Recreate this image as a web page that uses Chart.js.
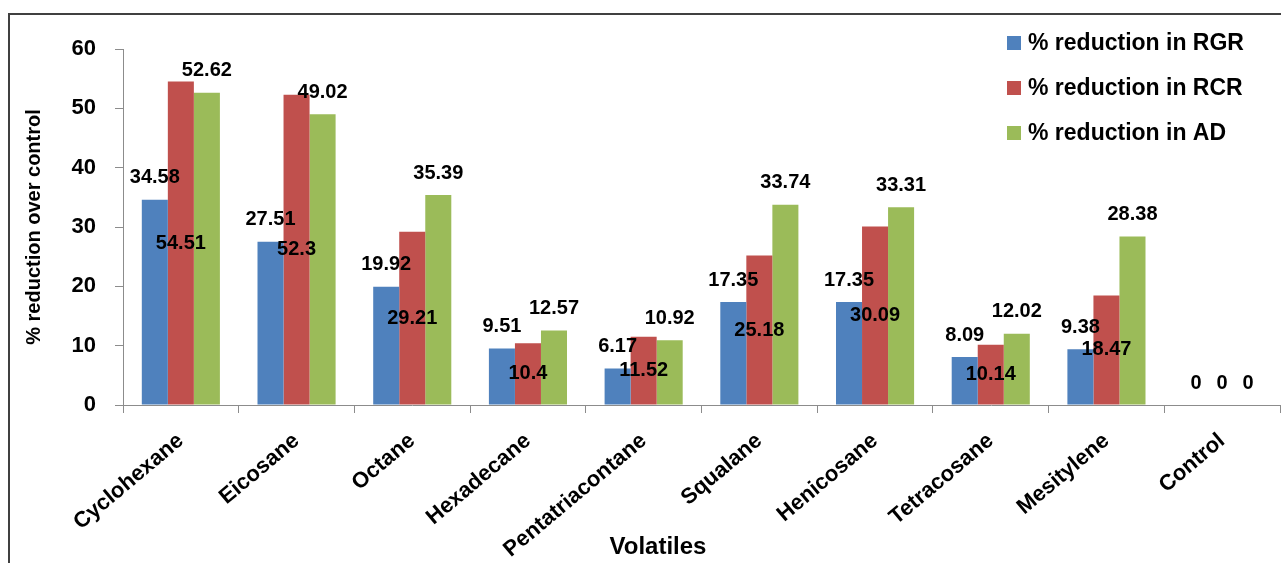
<!DOCTYPE html>
<html>
<head>
<meta charset="utf-8">
<script src="https://cdn.jsdelivr.net/npm/chart.js@4.4.1/dist/chart.umd.min.js"></script>
<style>
  html, body { margin: 0; padding: 0; background: #fff; }
  #wrap { position: relative; width: 1281px; height: 563px; overflow: hidden; }
  #frame {
    position: absolute; left: 8px; top: 13px; width: 1400px; height: 700px;
    border-left: 2px solid #404040; border-top: 2px solid #404040;
  }
  canvas { position: absolute; left: 0; top: 0; }
</style>
</head>
<body>
<div id="wrap">
  <div id="frame"></div>
  <canvas id="chart" width="1281" height="563"></canvas>
</div>
<script>
/* global Chart */
const categories = ['Cyclohexane', 'Eicosane', 'Octane', 'Hexadecane', 'Pentatriacontane',
  'Squalane', 'Henicosane', 'Tetracosane', 'Mesitylene', 'Control'];
const seriesNames = ['% reduction in RGR', '% reduction in RCR', '% reduction in AD'];
const rgrValues = [34.58, 27.51, 19.92, 9.51, 6.17, 17.35, 17.35, 8.09, 9.38, 0];
const rcrValues = [54.51, 52.3, 29.21, 10.4, 11.52, 25.18, 30.09, 10.14, 18.47, 0];
const adValues = [52.62, 49.02, 35.39, 12.57, 10.92, 33.74, 33.31, 12.02, 28.38, 0];
const seriesColors = ['#4F81BD', '#C0504D', '#9BBB59'];
const yMin = 0;
const yMax = 60;
const yStep = 10;

const FONT = "'Liberation Sans', Arial, sans-serif";
const AXIS_GREY = '#8c8c8c';

// value labels: RGR and AD above the bar, RCR centred in the bar
const valueLabels = {
  id: 'valueLabels',
  afterDatasetsDraw(chart) {
    const { ctx } = chart;
    ctx.save();
    ctx.font = `bold 20px ${FONT}`;
    ctx.fillStyle = '#000';
    ctx.textAlign = 'center';
    ctx.textBaseline = 'middle';
    chart.data.datasets.forEach((ds, i) => {
      chart.getDatasetMeta(i).data.forEach((bar, j) => {
        const v = ds.data[j];
        let y = bar.y - 22;
        if (i === 1 && v > 0) y = (bar.y + bar.base) / 2;
        ctx.fillText(String(v), bar.x, y);
      });
    });
    ctx.restore();
  },
};

// legend box in the top right corner
const cornerLegend = {
  id: 'cornerLegend',
  afterDraw(chart) {
    const { ctx } = chart;
    ctx.save();
    ctx.font = `bold 23px ${FONT}`;
    ctx.textBaseline = 'middle';
    ctx.textAlign = 'left';
    chart.data.datasets.forEach((ds, i) => {
      const cy = 43 + i * 45;
      ctx.fillStyle = ds.backgroundColor;
      ctx.fillRect(1007, cy - 7, 14, 14);
      ctx.fillStyle = '#000';
      ctx.fillText(ds.label, 1028, cy + 1);
    });
    ctx.restore();
  },
};

// x axis title, placed like the original (a bit left of centre)
const xTitle = {
  id: 'xTitle',
  afterDraw(chart) {
    const { ctx } = chart;
    ctx.save();
    ctx.font = `bold 24px ${FONT}`;
    ctx.fillStyle = '#000';
    ctx.textAlign = 'center';
    ctx.textBaseline = 'middle';
    ctx.fillText('Volatiles', 658, 547);
    ctx.restore();
  },
};

const datasets = [rgrValues, rcrValues, adValues].map((data, i) => ({
  label: seriesNames[i],
  data,
  backgroundColor: seriesColors[i],
  borderWidth: 0,
  categoryPercentage: 0.675,
  barPercentage: 1,
}));

new Chart(document.getElementById('chart'), {
  type: 'bar',
  data: { labels: categories, datasets },
  options: {
    animation: false,
    responsive: false,
    layout: { padding: { top: 49, right: 1, left: 0, bottom: 0 } },
    plugins: {
      legend: { display: false },
      tooltip: { enabled: false },
    },
    scales: {
      x: {
        grid: {
          offset: true,
          drawOnChartArea: false,
          drawTicks: true,
          tickLength: 8,
          color: AXIS_GREY,
        },
        border: { color: AXIS_GREY, width: 1 },
        ticks: {
          color: '#000',
          font: { family: FONT, size: 22, weight: 'bold' },
          minRotation: 40,
          maxRotation: 40,
          padding: 15,
        },
        afterFit(scale) { scale.height = 158; },
      },
      y: {
        min: yMin,
        max: yMax,
        grid: {
          drawOnChartArea: false,
          drawTicks: true,
          tickLength: 8,
          color: AXIS_GREY,
        },
        border: { color: AXIS_GREY, width: 1 },
        ticks: {
          stepSize: yStep,
          color: '#000',
          padding: 19,
          font: { family: FONT, size: 22, weight: 'bold' },
        },
        title: {
          display: true,
          text: '% reduction over control',
          color: '#000',
          font: { family: FONT, size: 20, weight: 'bold' },
          padding: { top: 22, bottom: 0 },
        },
        afterFit(scale) { scale.width = 123; },
      },
    },
  },
  plugins: [valueLabels, cornerLegend, xTitle],
});
</script>
</body>
</html>
